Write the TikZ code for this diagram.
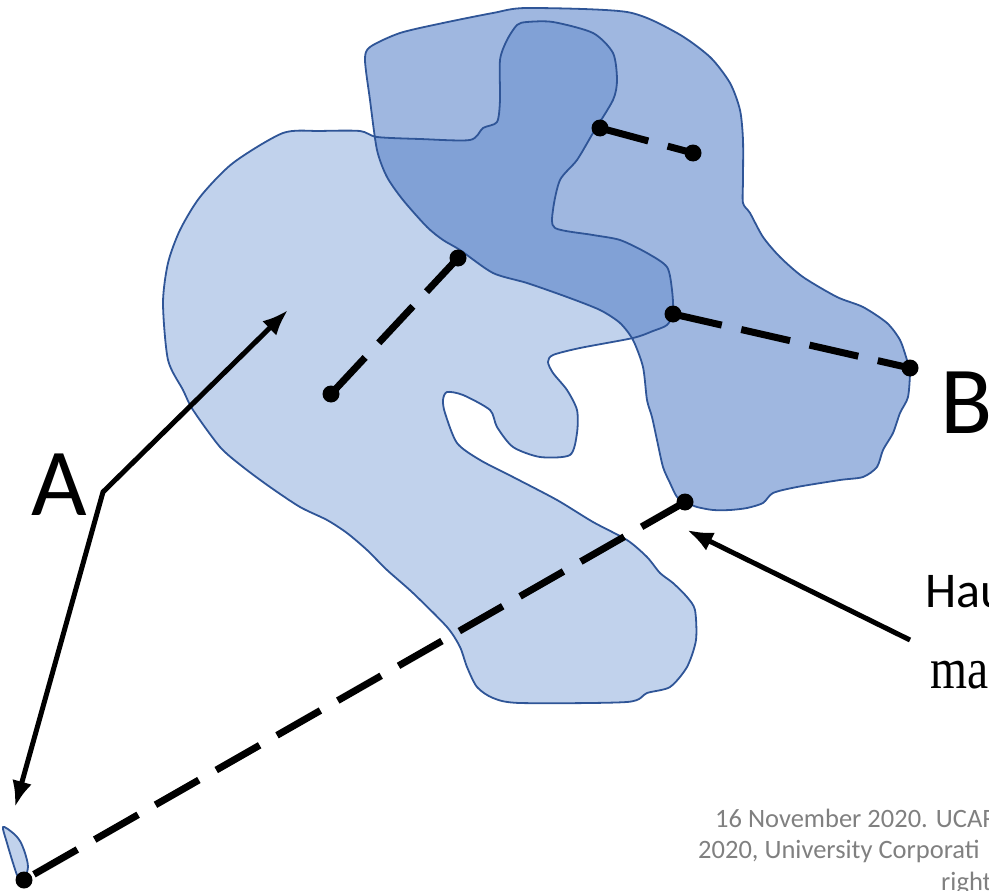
\documentclass[tikz,border=0pt]{standalone}
\usepackage{fontspec}
\setmainfont{Carlito}
\newfontfamily\serifma{Liberation Serif}
\usetikzlibrary{arrows.meta}
\definecolor{fillA}{RGB}{193,210,236}
\definecolor{fillB}{RGB}{71,117,195}
\definecolor{edgeblue}{RGB}{47,85,151}
\definecolor{notegray}{RGB}{128,128,128}
\tikzset{
  regionA/.style={fill=fillA},
  regionB/.style={fill=fillB,fill opacity=0.52},
  outline/.style={draw=edgeblue,line width=1.8pt,line join=round},
  dotn/.style={circle,fill=black,inner sep=0pt,minimum size=17pt},
  dashline/.style={line width=7pt,dash pattern=on 50pt off 20pt},
  bigtext/.style={inner sep=0pt,anchor=base west,font=\fontsize{96}{96}\selectfont},
  midtext/.style={inner sep=0pt,anchor=base west,font=\fontsize{50}{50}\selectfont},
  notetext/.style={inner sep=0pt,anchor=base west,text=notegray,font=\fontsize{26.5}{26.5}\selectfont}}
\begin{document}
\begin{tikzpicture}[x=1pt,y=-1pt]
\useasboundingbox (0,0) rectangle (989,891);
\clip (0,0) rectangle (989,891);

\def\shapeA{plot[smooth cycle,tension=0.45] coordinates {
(283,133) (320,131) (360,131) (377,137) (420,139) (470,140) (483,128) (497,122) (500,100) (500,60) (507,40) (517,25) (527,22) (553,22) (593,33) (613,53) (617,80) (613,100) (593,133) (577,160) (560,180) (553,210) (555,228) (593,235) (620,240) (647,253) (667,267) (672,290) (673,313) (667,325) (653,331) (633,338) (580,348) (553,355) (548,362) (553,373) (567,390) (577,410) (577,433) (570,455) (540,457) (513,447) (497,427) (490,410) (463,395) (447,392) (443,400) (445,413) (457,443) (480,460) (513,477) (557,500) (593,522) (627,540) (647,557) (660,573) (673,583) (687,597) (695,610) (696,640) (687,667) (670,687) (647,693) (627,702) (520,703) (493,698) (477,687) (467,667) (460,647) (447,627) (413,593) (387,570) (367,550) (347,533) (327,520) (300,507) (270,487) (243,467) (220,447) (193,410) (183,390) (168,360) (163,303) (168,263) (180,230) (200,197) (233,163)}}
\def\shapeB{plot[smooth cycle,tension=0.45] coordinates {
(370,47) (400,33) (443,23) (493,13) (527,8) (627,12) (677,33) (710,57) (730,83) (740,110) (743,140) (743,180) (743,203) (750,213) (763,237) (780,257) (803,277) (837,297) (863,307) (887,323) (900,340) (907,360) (910,370) (908,397) (900,413) (893,433) (883,450) (877,467) (863,477) (840,480) (797,487) (773,493) (763,503) (747,508) (730,510) (713,510) (697,507) (685,502) (677,497) (670,483) (663,467) (657,440) (652,417) (647,400) (643,367) (633,340) (620,323) (600,310) (567,297) (527,283) (493,273) (460,250) (443,240) (427,227) (403,200) (387,177) (377,150) (370,100) (365,60)}}
\def\shapeC{plot[smooth cycle,tension=0.5] coordinates {
(3,827) (13,833) (20,841) (25,853) (28,867) (24,880) (18,877) (13,863) (7,843)}}

\path[regionA] \shapeA;
\path[regionB] \shapeB;
\path[regionA] \shapeC;
\draw[outline] \shapeA;
\draw[outline] \shapeB;
\draw[outline] \shapeC;

% dots
\node[dotn] (p1) at (458,258) {};
\node[dotn] (p2) at (331,394) {};
\node[dotn] (q1) at (600,128) {};
\node[dotn] (q2) at (693,153) {};
\node[dotn] (r1) at (673,314) {};
\node[dotn] (r2) at (910,368) {};
\node[dotn] (s1) at (685,502) {};
\node[dotn] (s2) at (24,880) {};

% dashed connectors
\draw[dashline] (p2.center) -- (p1.center);
\draw[dashline] (q1.center) -- (q2.center);
\draw[dashline] (r1.center) -- (r2.center);
\draw[dashline] (s1.center) -- (s2.center);

% arrows
\coordinate (j) at (103,492);
\coordinate (tA) at (288,310);
\coordinate (tC) at (15,807);
\coordinate (hs) at (910,640);
\coordinate (ht) at (687,530);
\draw[line width=5pt,line join=miter,{Latex[length=26pt,width=20pt]}-{Latex[length=26pt,width=20pt]}] (tA) -- (j) -- (tC);
\draw[line width=5pt,-{Latex[length=26pt,width=20pt]}] (hs) -- (ht);

% labels
\node[bigtext] (labA) at (31,515) {A};
\node[bigtext] (labB) at (940,433) {B};
\node[midtext] (hau) at (925,607) {Hau};
\node[inner sep=0pt,anchor=base west,font=\serifma\fontsize{58}{58}\selectfont] (ma) at (930,688) {\scalebox{0.82}[1]{ma}};
\node[notetext] (n1) at (715,827) {16 November 2020. UCAR};
\node[notetext] (n2) at (698,858) {2020, University Corporati};
\node[notetext] (n3) at (941,890) {right};
\end{tikzpicture}
\end{document}
